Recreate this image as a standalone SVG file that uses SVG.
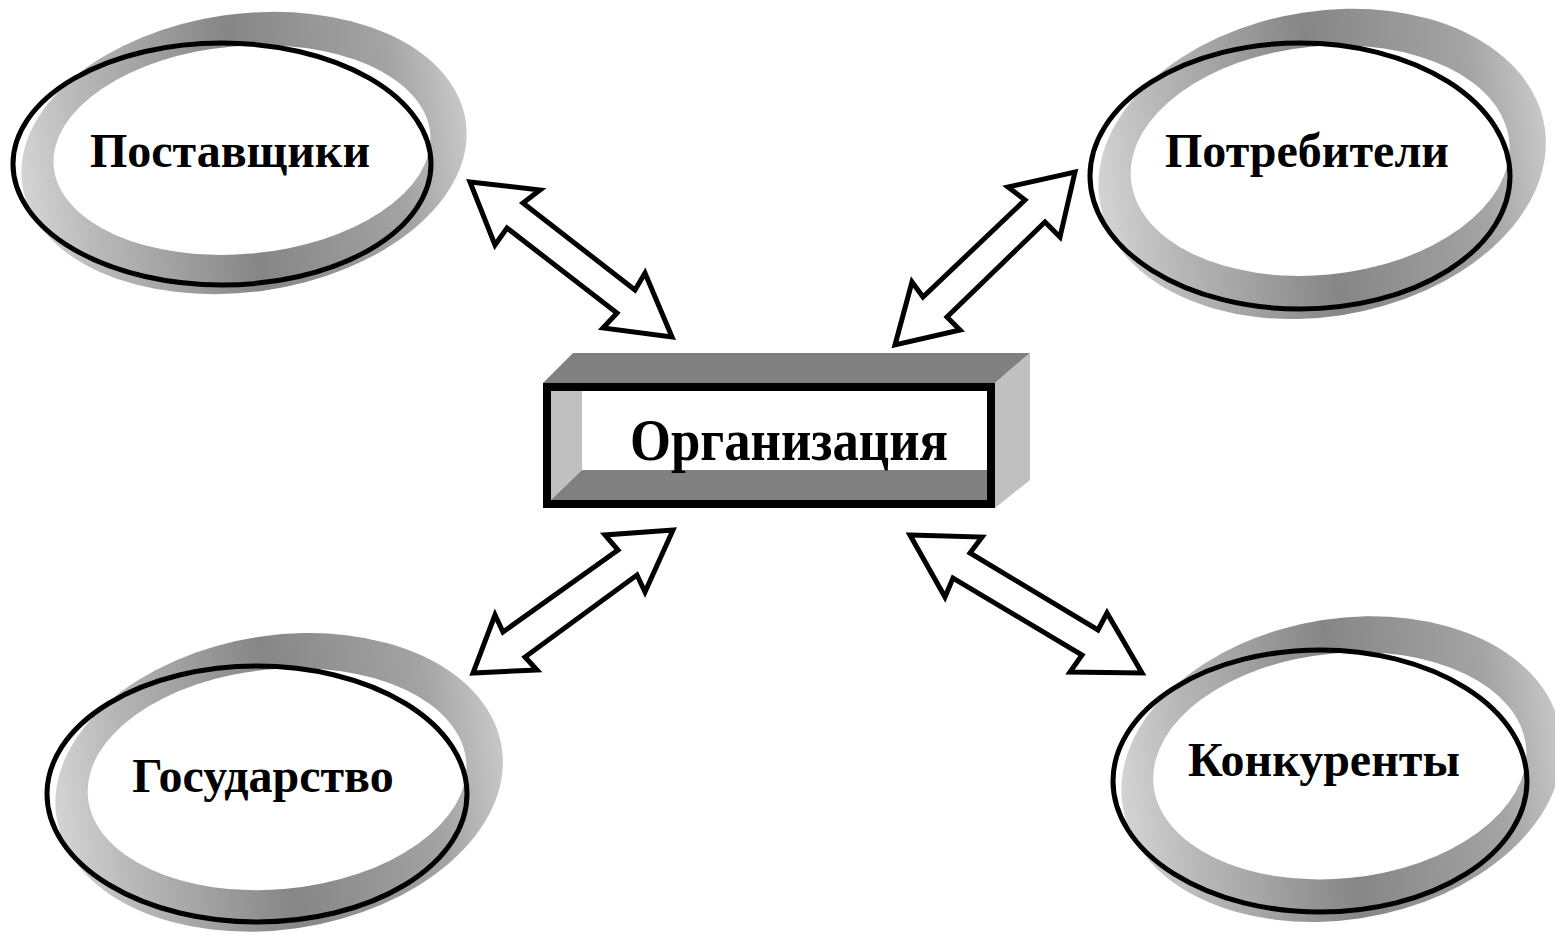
<svg xmlns="http://www.w3.org/2000/svg" width="1555" height="934" viewBox="0 0 1555 934">
<defs>
<linearGradient id="ringGrad" x1="0" y1="0" x2="1" y2="0">
<stop offset="0" stop-color="#d4d4d4"/>
<stop offset="0.15" stop-color="#b8b8b8"/>
<stop offset="0.5" stop-color="#868686"/>
<stop offset="0.85" stop-color="#a4a4a4"/>
<stop offset="1" stop-color="#c8c8c8"/>
</linearGradient>
</defs>
<style>
.outer{fill:url(#ringGrad)}
.inner{fill:#ffffff}
.rim{fill:none;stroke:#000;stroke-width:5}
.lbl{font-family:"Liberation Serif","Times New Roman",serif;font-weight:bold;fill:#000;text-anchor:middle}
.arrow{fill:#fff;stroke:#000;stroke-width:5;stroke-linejoin:miter}
</style>
<rect width="1555" height="934" fill="#fff"/>

<g id="connectors">
<polygon class="arrow" points="470,182 540,190 523,203 635,290 645,273 672,337 603,328 617,313 507,228 495,245"/>
<polygon class="arrow" points="1075,172 1060,237 1045,222 947,317 960,330 895,345 912,282 923,297 1025,200 1008,187"/>
<polygon class="arrow" points="673,530 645,592 637,575 525,657 537,670 473,673 495,615 503,632 618,550 605,535"/>
<polygon class="arrow" points="910,535 982,537 970,553 1098,630 1107,613 1142,673 1070,672 1082,655 953,578 945,597"/>
</g>

<g id="node-postavshchiki">
<g transform="translate(222,164)">
<ellipse class="outer" cx="22" cy="-11" rx="224" ry="139" transform="rotate(-8 22 -11)"/>
<ellipse class="inner" cx="20" cy="-14" rx="189" ry="104" transform="rotate(-5 20 -14)"/>
</g>
<ellipse class="rim" cx="222" cy="164" rx="209" ry="121"/>
<text class="lbl" x="230" y="167" font-size="48">Поставщики</text>
</g>

<g id="node-potrebiteli">
<g transform="translate(1300,176) scale(1.005,1.099)">
<ellipse class="outer" cx="22" cy="-11" rx="224" ry="139" transform="rotate(-8 22 -11)"/>
<ellipse class="inner" cx="20" cy="-14" rx="189" ry="104" transform="rotate(-5 20 -14)"/>
</g>
<ellipse class="rim" cx="1300" cy="176" rx="210" ry="133"/>
<text class="lbl" x="1307" y="167" font-size="48">Потребители</text>
</g>

<g id="node-gosudarstvo">
<g transform="translate(257,794) scale(1.005,1.058)">
<ellipse class="outer" cx="22" cy="-11" rx="224" ry="139" transform="rotate(-8 22 -11)"/>
<ellipse class="inner" cx="20" cy="-14" rx="189" ry="104" transform="rotate(-5 20 -14)"/>
</g>
<ellipse class="rim" cx="257" cy="794" rx="210" ry="128"/>
<text class="lbl" x="263" y="792" font-size="48">Государство</text>
</g>

<g id="node-konkurenty">
<g transform="translate(1320,781) scale(0.99,1.083)">
<ellipse class="outer" cx="22" cy="-11" rx="224" ry="139" transform="rotate(-8 22 -11)"/>
<ellipse class="inner" cx="20" cy="-14" rx="189" ry="104" transform="rotate(-5 20 -14)"/>
</g>
<ellipse class="rim" cx="1320" cy="781" rx="207" ry="131"/>
<text class="lbl" x="1324" y="776" font-size="48">Конкуренты</text>
</g>

<g id="node-organizatsiya">
<polygon points="543,383 573,353 1030,353 995,383" fill="#808080"/>
<polygon points="995,383 1030,353 1030,480 995,508" fill="#c0c0c0"/>
<rect x="547" y="387" width="444" height="117" fill="#fff"/>
<polygon points="551,391 582,391 582,470 551,500" fill="#c0c0c0"/>
<polygon points="551,500 582,470 987,470 987,500" fill="#808080"/>
<rect x="547" y="387" width="444" height="117" fill="none" stroke="#000" stroke-width="8"/>
<text class="lbl" x="789" y="460" font-size="60" textLength="318" lengthAdjust="spacingAndGlyphs">Организация</text>
</g>
</svg>
